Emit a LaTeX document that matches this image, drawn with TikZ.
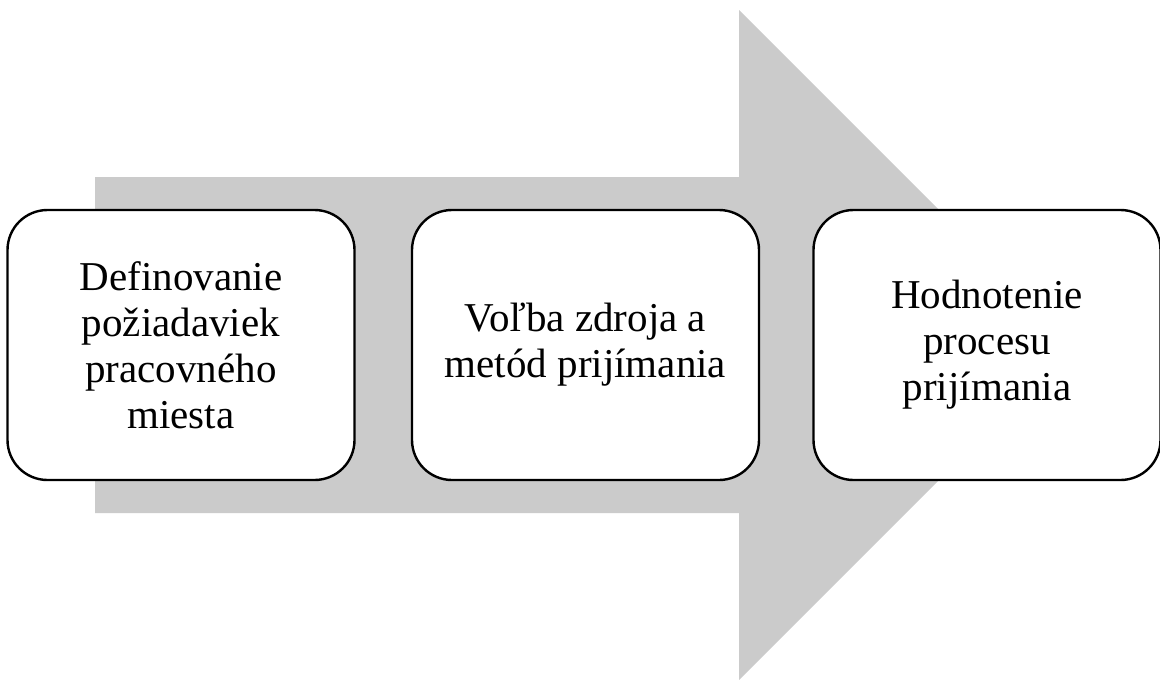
\documentclass[tikz,border=0pt]{standalone}
\usepackage{fontspec}
\setmainfont{Liberation Serif}
\newfontfamily\timesfont{Liberation Serif}
\definecolor{sipka}{HTML}{CBCBCB}
\begin{document}
\begin{tikzpicture}[x=1pt, y=-1pt,
  krok/.style={draw=black, line width=2.4pt, fill=white, rounded corners=40pt,
    minimum width=347pt, minimum height=270pt, align=center,
    font=\timesfont\fontsize{41}{46}\selectfont}]
\useasboundingbox (0,0) rectangle (1160,680);
% Sipka
\fill[sipka] (95,177) -- (739,177) -- (739,10) -- (1074,345) -- (739,680)
  -- (739,513) -- (95,513) -- cycle;
% Kroky
\node[krok] (def) at (181,345) {Definovanie\\požiadaviek\\pracovného\\miesta};
\node[krok] (volba) at (585.5,345) {Voľba zdroja a\\metód prijímania};
\node[krok] (hodn) at (987,345) {Hodnotenie\\procesu\\prijímania};
\end{tikzpicture}
\end{document}
